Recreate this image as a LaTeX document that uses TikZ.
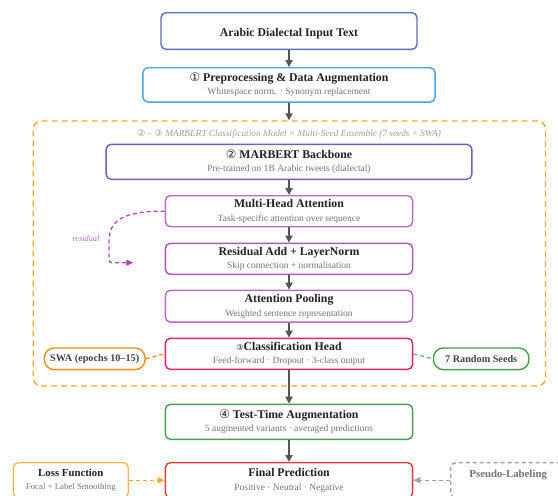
\documentclass[tikz,border=0pt]{standalone}
\usepackage{fontspec}
\setmainfont{Liberation Serif}
\newfontfamily\circfont{DejaVu Sans}
\usepackage{tikz}
\usetikzlibrary{arrows.meta}
\definecolor{inputc}{HTML}{5C6BC0}
\definecolor{prepc}{HTML}{42A5F5}
\definecolor{ensc}{HTML}{FFA726}
\definecolor{marbertc}{HTML}{7E57C2}
\definecolor{attc}{HTML}{BA68C8}
\definecolor{resc}{HTML}{9C27B0}
\definecolor{headc}{HTML}{E91E63}
\definecolor{swac}{HTML}{FB8C00}
\definecolor{seedc}{HTML}{43A047}
\definecolor{finalc}{HTML}{E53935}
\definecolor{lossc}{HTML}{FFB74D}
\definecolor{pseudoc}{HTML}{9E9E9E}
\definecolor{arrowc}{HTML}{555555}
\definecolor{titlec}{HTML}{212121}
\definecolor{subc}{HTML}{757575}
\newcommand{\boxsub}[1]{{\mdseries\fontsize{9.5}{13.5}\selectfont\color{subc}#1}}
\newcommand{\circnum}[1]{{\circfont\mdseries #1}}

\begin{document}
\begin{tikzpicture}[x=1pt, y=-1pt,
		stage/.style={draw, rounded corners=5pt, line width=1.4pt, fill=white, align=center, inner sep=0pt, text=titlec, font=\bfseries\fontsize{11.8}{13.5}\selectfont, execute at begin node=\rule{0pt}{14pt}},
		pill/.style={draw, rounded corners=10pt, line width=1.4pt, fill=white, inner sep=0pt, text=titlec!85, font=\bfseries\fontsize{10.2}{12}\selectfont, minimum height=21.7pt},
		flow/.style={-{Triangle[length=7pt,width=7pt]}, line width=2pt, draw=arrowc},
		tie/.style={dashed, dash pattern=on 4pt off 3pt, line width=1.2pt}]
	\useasboundingbox (0,0) rectangle (558,496);
	\clip (0,0) rectangle (558,496);

	\node[draw=ensc, dashed, dash pattern=on 6pt off 4pt, line width=1.4pt, rounded corners=8pt, minimum width=512.2pt, minimum height=265pt, inner sep=0pt] (ens) at (289.4,253.5) {};
	\node[text=pseudoc, font=\itshape\fontsize{9.3}{11}\selectfont] (enscap) at (289,134.3) {\circnum{②} – \circnum{③} MARBERT Classification Model × Multi-Seed Ensemble (7 seeds + SWA)};

	\node[stage, draw=inputc, minimum width=256pt, minimum height=36.6pt] (input) at (289,31) {Arabic Dialectal Input Text};
	\node[stage, draw=prepc, minimum width=292.3pt, minimum height=34.3pt] (prep) at (289,84.9) {\circnum{①} Preprocessing \& Data Augmentation\\\boxsub{Whitespace norm. · Synonym replacement}};
	\node[stage, draw=marbertc, minimum width=365.7pt, minimum height=35pt] (marbert) at (289,161.8) {\circnum{②} MARBERT Backbone\\\boxsub{Pre-trained on 1B Arabic tweets (dialectal)}};
	\node[stage, draw=attc, minimum width=247.3pt, minimum height=31pt] (mha) at (289,211.2) {Multi-Head Attention\\\boxsub{Task-specific attention over sequence}};
	\node[stage, draw=resc!80, minimum width=247.3pt, minimum height=31pt] (resnorm) at (289,258.8) {Residual Add + LayerNorm\\\boxsub{Skip connection + normalisation}};
	\node[stage, draw=attc, minimum width=247.3pt, minimum height=31.7pt] (pool) at (289,306.2) {Attention Pooling\\\boxsub{Weighted sentence representation}};
	\node[stage, draw=headc, minimum width=247.3pt, minimum height=31pt] (head) at (289,353.8) {{\circfont\mdseries\fontsize{8}{10}\selectfont ③}Classification Head\\\boxsub{Feed-forward · Dropout · 3-class output}};
	\node[stage, draw=seedc, minimum width=247.3pt, minimum height=35pt] (tta) at (289,421.8) {\circnum{④} Test-Time Augmentation\\\boxsub{5 augmented variants · averaged predictions}};
	\node[stage, draw=finalc, minimum width=247.3pt, minimum height=35pt] (final) at (289,480.2) {Final Prediction\\\boxsub{Positive · Neutral · Negative}};

	\node[pill, draw=swac, minimum width=100.7pt] (swa) at (94.7,358.8) {SWA (epochs 10–15)};
	\node[pill, draw=seedc, minimum width=95.5pt] (seeds) at (481.2,358.8) {7 Random Seeds};
	\node[stage, draw=lossc, minimum width=115pt, minimum height=35pt, font=\bfseries\fontsize{10.8}{13}\selectfont] (loss) at (70.8,480.2) {Loss Function\\{\mdseries\fontsize{8.8}{13}\selectfont\color{subc}Focal + Label Smoothing}};
	\node[stage, draw=pseudoc, dashed, dash pattern=on 4pt off 3pt, minimum width=115pt, minimum height=35pt, text=subc, font=\bfseries\fontsize{10.8}{13}\selectfont] (pseudo) at (508.2,480.2) {Pseudo-Labeling\\{}};

	\node[text=attc, font=\itshape\fontsize{8.3}{10}\selectfont] (reslab) at (86,238.3) {residual};
	\coordinate (restip) at (133.3,262.7);

	\draw[flow] (input) -- (prep);
	\draw[flow] (prep.south) -- (prep.south |- ens.north);
	\draw[flow] (marbert) -- (mha);
	\draw[flow] (mha) -- (resnorm);
	\draw[flow] (resnorm) -- (pool);
	\draw[flow] (pool) -- (head);
	\draw[flow] (head) -- (tta);
	\draw[flow] (tta) -- (final);

	\draw[resc!85, tie, line width=1.3pt, -{Triangle[length=7pt,width=6pt]}] (mha.west) .. controls (120,211) and (109,222) .. (109,242) -- (109,257) .. controls (109,262.7) .. (115,262.7) -- (restip);
	\draw[swac, tie] (swa.east) -- (head.west);
	\draw[seedc!80, tie] (head.east) -- (seeds.west);
	\draw[ensc, tie, line width=1.4pt, -{Triangle[length=7pt,width=6pt]}] (loss.east) -- (final.west);
	\draw[pseudoc, tie, line width=1.4pt, -{Triangle[length=7pt,width=6pt]}] (pseudo.west) -- (final.east);
\end{tikzpicture}
\end{document}
